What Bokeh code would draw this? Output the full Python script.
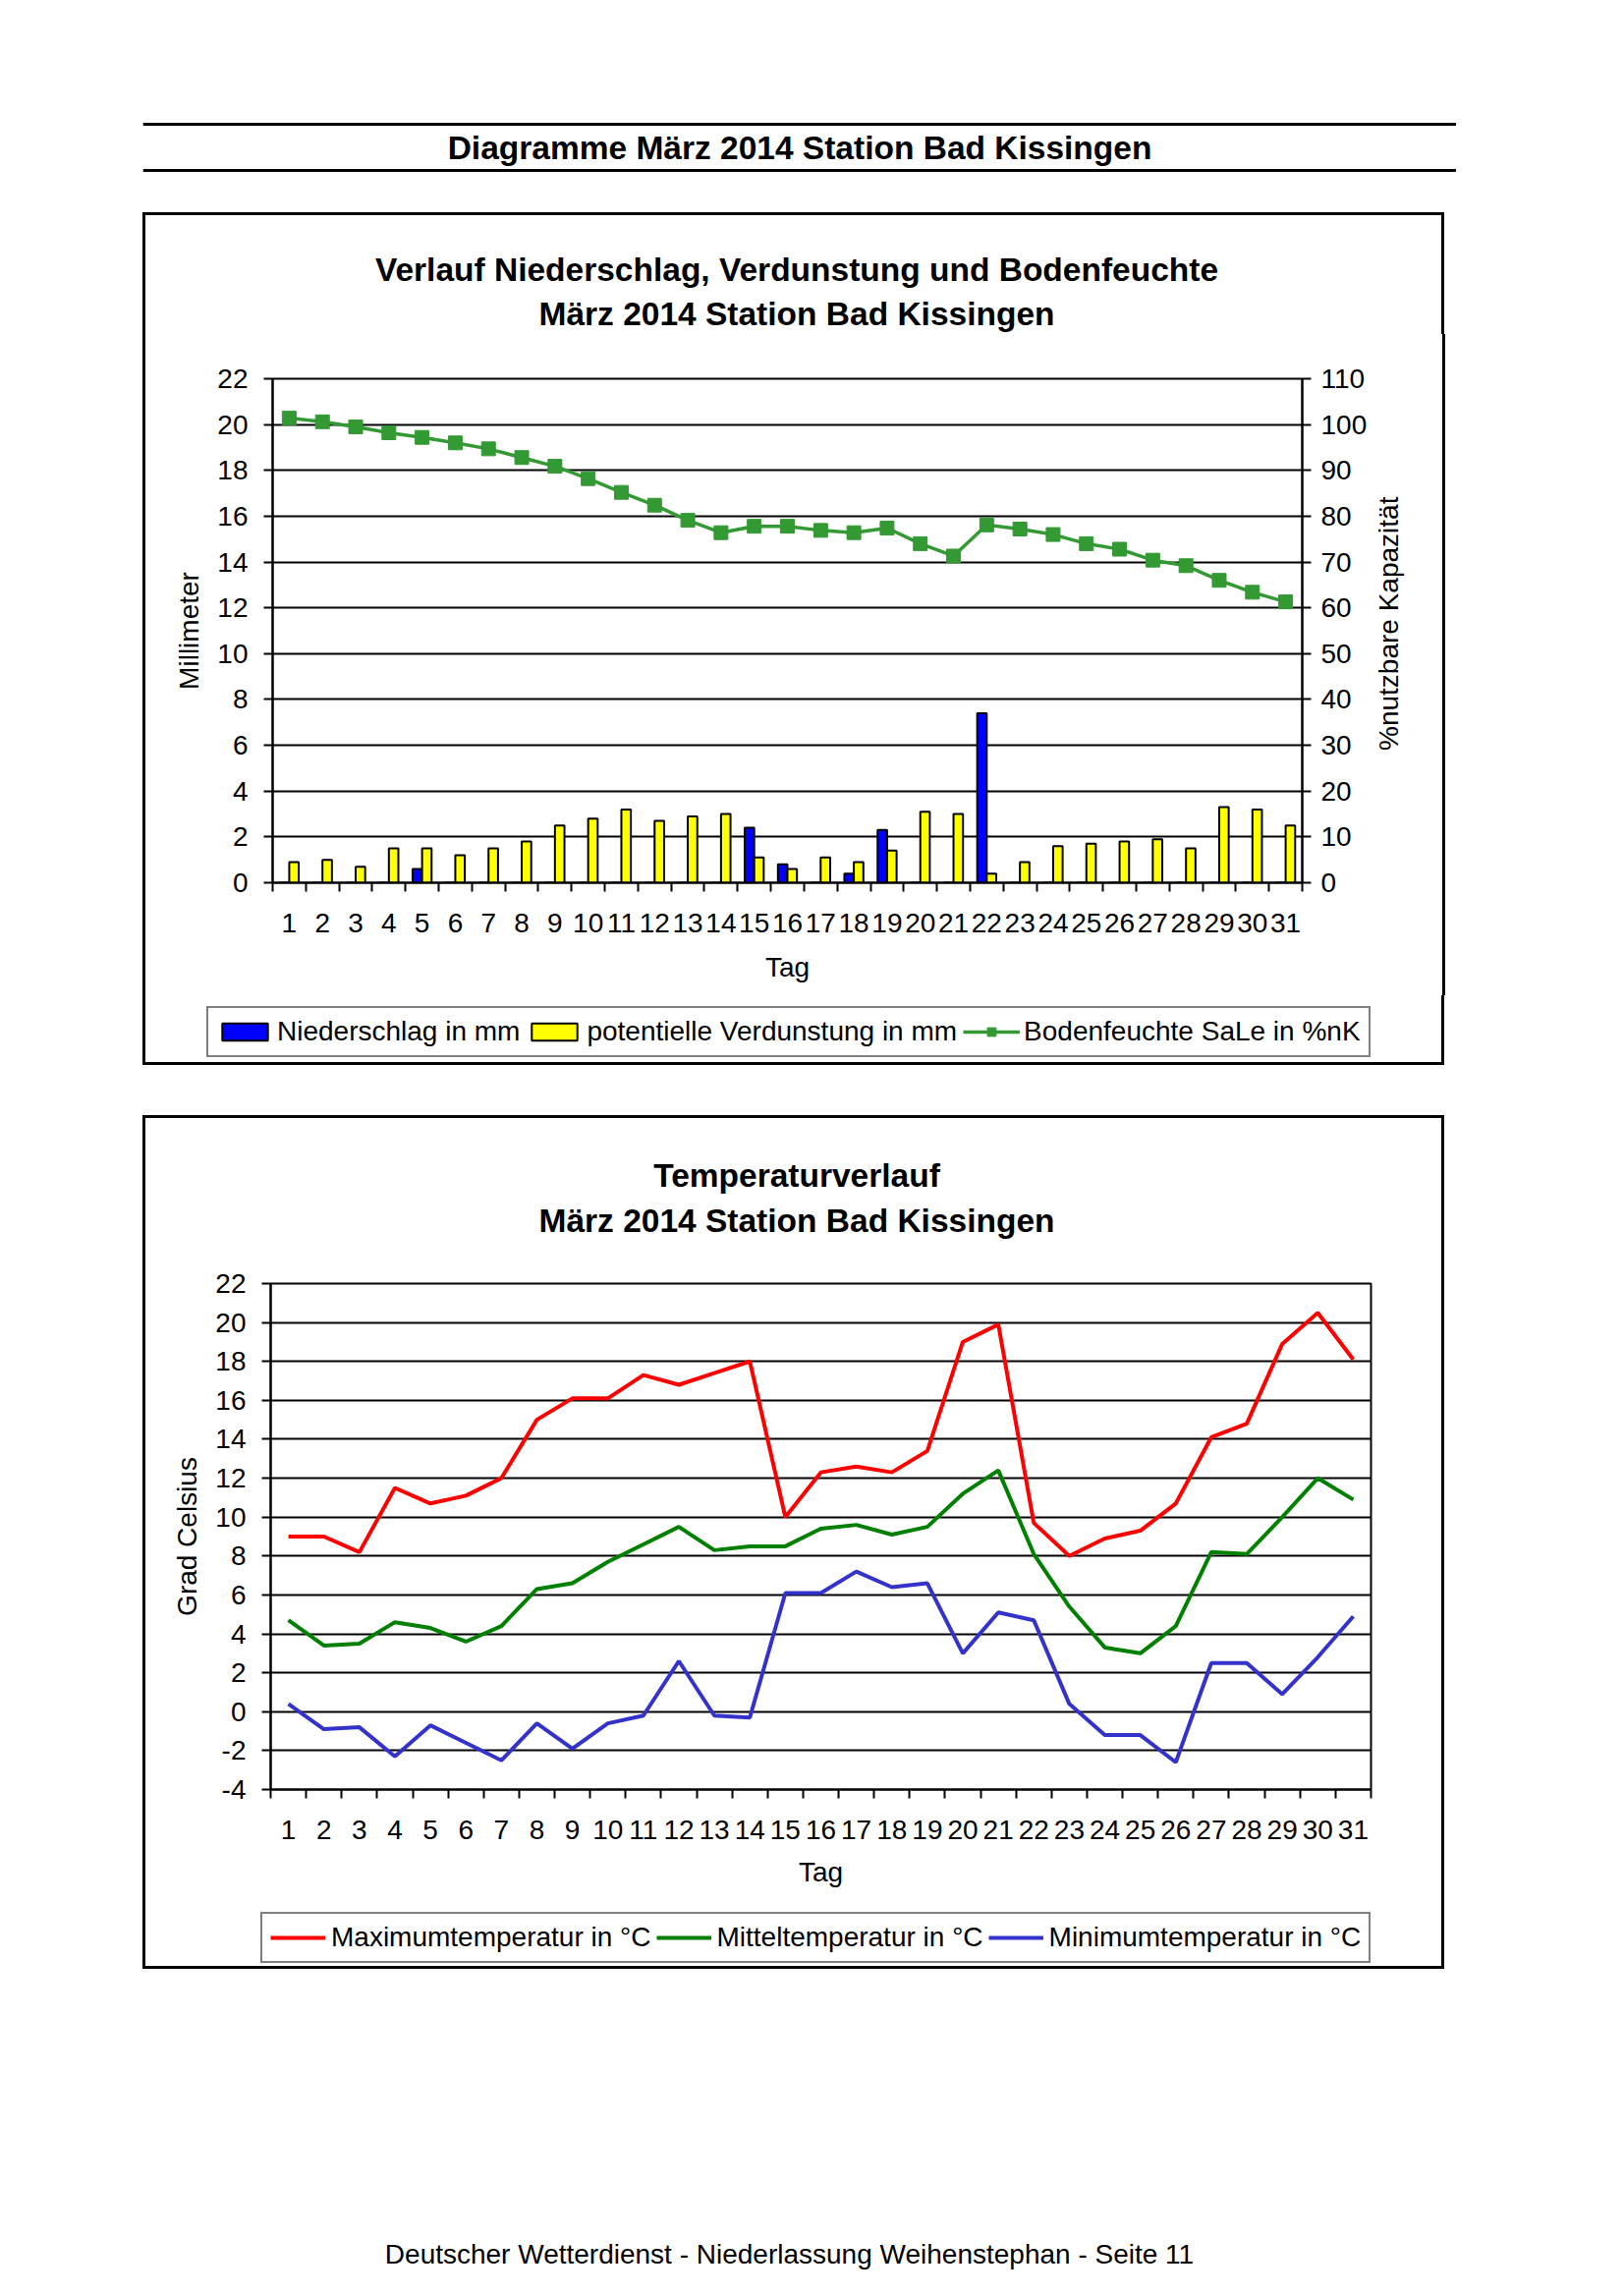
import math
from bokeh.plotting import figure
from bokeh.models import (Range1d, LinearAxis, FixedTicker, Legend, LegendItem,
                          Label, Span, Spacer, ColumnDataSource, PrintfTickFormatter)
from bokeh.layouts import column, row
from bokeh.transform import dodge
from bokeh.embed import file_html
from bokeh.resources import INLINE

FONT = "Liberation Sans"
TXT = "28px"
BOLD = "33.5px"
BORDER = "3px solid black"

# ---------------- data ----------------
days = list(range(1, 32))
niederschlag = [0, 0, 0, 0, 0.6, 0, 0, 0, 0, 0, 0, 0, 0, 0, 2.4, 0.8, 0, 0.4, 2.3, 0,
                0, 7.4, 0, 0, 0, 0, 0, 0, 0, 0, 0]
verdunstung = [0.9, 1.0, 0.7, 1.5, 1.5, 1.2, 1.5, 1.8, 2.5, 2.8, 3.2, 2.7, 2.9, 3.0, 1.1, 0.6,
               1.1, 0.9, 1.4, 3.1, 3.0, 0.4, 0.9, 1.6, 1.7, 1.8, 1.9, 1.5, 3.3, 3.2, 2.5]
bodenfeuchte = [101.4, 100.6, 99.5, 98.2, 97.2, 96.0, 94.7, 92.8, 90.9, 88.2, 85.2, 82.4, 79.1,
                76.4, 77.8, 77.8, 76.9, 76.4, 77.4, 74.0, 71.3, 78.1, 77.2, 76.0, 74.0, 72.8,
                70.4, 69.2, 66.0, 63.4, 61.3]
temp_max = [9.0, 9.0, 8.2, 11.5, 10.7, 11.1, 12.0, 15.0, 16.1, 16.1, 17.3, 16.8, 17.4, 18.0,
            10.0, 12.3, 12.6, 12.3, 13.4, 19.0, 19.9, 9.7, 8.0, 8.9, 9.3, 10.7, 14.1, 14.8,
            18.9, 20.5, 18.1]
temp_mittel = [4.7, 3.4, 3.5, 4.6, 4.3, 3.6, 4.4, 6.3, 6.6, 7.7, 8.6, 9.5, 8.3, 8.5, 8.5, 9.4,
               9.6, 9.1, 9.5, 11.2, 12.4, 8.1, 5.4, 3.3, 3.0, 4.4, 8.2, 8.1, 10.0, 12.0, 10.9]
temp_min = [0.4, -0.9, -0.8, -2.3, -0.7, -1.6, -2.5, -0.6, -1.9, -0.6, -0.2, 2.6, -0.2, -0.3,
            6.1, 6.1, 7.2, 6.4, 6.6, 3.0, 5.1, 4.7, 0.4, -1.2, -1.2, -2.6, 2.5, 2.5, 0.9, 2.8,
            4.9]

mm_ticks = list(range(0, 23, 2))
pct_ticks = list(range(0, 111, 10))
temp_ticks = list(range(-4, 23, 2))

page_title = "Diagramme März 2014 Station Bad Kissingen"
chart1_title = ["Verlauf Niederschlag, Verdunstung und Bodenfeuchte", "März 2014 Station Bad Kissingen"]
chart2_title = ["Temperaturverlauf", "März 2014 Station Bad Kissingen"]
right_label = "%nutzbare Kapazität"
legend1_labels = ["Niederschlag in mm", "potentielle Verdunstung in mm", "Bodenfeuchte SaLe in %nK"]
legend2_labels = ["Maximumtemperatur in °C", "Mitteltemperatur in °C", "Minimumtemperatur in °C"]
footer_text = "Deutscher Wetterdienst - Niederlassung Weihenstephan - Seite 11"

COL_N, COL_V, COL_B = "#0000FF", "#FFFF00", "#339933"
COL_MAX, COL_MIT, COL_MIN = "#FF0000", "#008000", "#3333CC"


def style_axis(ax, label_standoff, axis_standoff, is_x=False):
    ax.axis_line_color = "black"
    ax.axis_line_width = 2
    ax.major_tick_line_color = "black"
    ax.major_tick_line_width = 2
    ax.minor_tick_line_color = "black"
    ax.minor_tick_line_width = 2
    ax.major_tick_in = 0
    ax.minor_tick_in = 0
    if is_x:
        ax.major_tick_out = 0
        ax.minor_tick_out = 9
    else:
        ax.major_tick_out = 9
        ax.minor_tick_out = 0
    ax.formatter = PrintfTickFormatter(format="%d")
    ax.major_label_text_font = FONT
    ax.major_label_text_font_size = TXT
    ax.major_label_text_color = "black"
    ax.axis_label_text_font = FONT
    ax.axis_label_text_font_size = TXT
    ax.axis_label_text_font_style = "normal"
    ax.axis_label_text_color = "black"
    ax.major_label_standoff = label_standoff
    ax.axis_label_standoff = axis_standoff


def blank_fig(w, h, cw=None, ch=None, styles=None):
    cw = w if cw is None else cw
    ch = h if ch is None else ch
    f = figure(width=w, height=h, x_range=Range1d(0, cw), y_range=Range1d(ch, 0),
               toolbar_location=None, output_backend="svg", x_axis_location=None,
               y_axis_location=None, min_border=0, outline_line_color=None,
               styles=styles or {})
    f.grid.visible = False
    return f


def text_label(f, x, y, txt, size, bold=False, angle=0.0):
    f.add_layout(Label(x=x, y=y, text=txt, angle=angle, text_align="center",
                       text_baseline="middle", text_font=FONT, text_font_size=size,
                       text_font_style="bold" if bold else "normal", text_color="black"))


def legend_fig(h, items, loc, spacing, standoff, gw, gh):
    f = blank_fig(1325, h, 1319, h - 3,
                  {"border-left": BORDER, "border-right": BORDER, "border-bottom": BORDER})
    leg = Legend(items=items(f), orientation="horizontal", location=loc,
                 border_line_color="black", border_line_width=2, background_fill_alpha=1,
                 padding=8, spacing=spacing, label_standoff=standoff, glyph_width=gw,
                 glyph_height=gh, label_height=30, margin=0, label_text_font=FONT,
                 label_text_font_size=TXT, label_text_color="black")
    f.add_layout(leg)
    return f


# ---------------- header ----------------
HW, HH = 1337, 192
header = blank_fig(HW, HH)
for yy in (118, 165):
    header.add_layout(Span(location=yy, dimension="width", line_color="black", line_width=3))
text_label(header, HW / 2, 142, page_title, BOLD, bold=True)

# ---------------- chart 1 ----------------
title1 = blank_fig(1325, 124, 1319, 121,
                   {"border-left": BORDER, "border-top": BORDER, "border-right": BORDER})
text_label(title1, 659.5, 54, chart1_title[0], BOLD, bold=True)
text_label(title1, 659.5, 98, chart1_title[1], BOLD, bold=True)

src1 = ColumnDataSource(dict(day=days, nied=niederschlag, verd=verdunstung, bf=bodenfeuchte))
p1 = figure(frame_width=1045, frame_height=513, x_range=Range1d(0.5, 31.5), y_range=Range1d(0, 22),
            toolbar_location=None, output_backend="svg",
            min_border_left=129, min_border_right=68, min_border_top=45, min_border_bottom=115,
            outline_line_color="black", outline_line_width=2,
            styles={"border-left": BORDER})
p1.extra_y_ranges = {"pct": Range1d(0, 110)}
p1.xgrid.visible = False
p1.ygrid.ticker = FixedTicker(ticks=mm_ticks)
p1.ygrid.grid_line_color = "black"
p1.ygrid.grid_line_width = 2

p1.vbar(x=dodge("day", -0.143, range=p1.x_range), top="nied", width=0.286,
        fill_color=COL_N, line_color="black", line_width=2, source=src1)
p1.vbar(x=dodge("day", 0.143, range=p1.x_range), top="verd", width=0.286,
        fill_color=COL_V, line_color="black", line_width=2, source=src1)
p1.line("day", "bf", y_range_name="pct", line_color=COL_B, line_width=3.5, source=src1)
p1.scatter("day", "bf", y_range_name="pct", marker="square", size=14,
           fill_color=COL_B, line_color=COL_B, source=src1)

p1.xaxis.ticker = FixedTicker(ticks=days, minor_ticks=[d - 0.5 for d in range(1, 33)])
p1.xaxis.axis_label = "Tag"
style_axis(p1.xaxis[0], 22, 17, is_x=True)
p1.yaxis.ticker = FixedTicker(ticks=mm_ticks)
p1.yaxis.axis_label = "Millimeter"
style_axis(p1.yaxis[0], 16, 10)
ax_r = LinearAxis(y_range_name="pct", ticker=FixedTicker(ticks=pct_ticks))
style_axis(ax_r, 10, 10)
p1.add_layout(ax_r, "right")

lab1 = blank_fig(80, 673, 77, 673, {"border-right": BORDER})
text_label(lab1, 21, 327, right_label, TXT, angle=math.pi / 2)


def items1(f):
    e = ColumnDataSource(dict(x=[0], y=[0]))
    rn = f.vbar(x="x", top="y", width=1, fill_color=COL_N, line_color="black", line_width=2,
                source=e, visible=False)
    rv = f.vbar(x="x", top="y", width=1, fill_color=COL_V, line_color="black", line_width=2,
                source=e, visible=False)
    rl = f.line(x="x", y="y", line_color=COL_B, line_width=3.5, source=e, visible=False)
    rs = f.scatter(x="x", y="y", marker="square", size=14, fill_color=COL_B, line_color=COL_B,
                   source=e, visible=False)
    return [LegendItem(label=legend1_labels[0], renderers=[rn]),
            LegendItem(label=legend1_labels[1], renderers=[rv]),
            LegendItem(label=legend1_labels[2], renderers=[rl, rs])]


leg1f = legend_fig(71, items1, (62, 8), 6, 4, 58, 22)

# ---------------- chart 2 ----------------
title2 = blank_fig(1325, 127, 1319, 124,
                   {"border-left": BORDER, "border-top": BORDER, "border-right": BORDER})
text_label(title2, 659.5, 57, chart2_title[0], BOLD, bold=True)
text_label(title2, 659.5, 102, chart2_title[1], BOLD, bold=True)

src2 = ColumnDataSource(dict(day=days, tmax=temp_max, tmit=temp_mittel, tmin=temp_min))
p2 = figure(frame_width=1114, frame_height=515, x_range=Range1d(0.5, 31.5), y_range=Range1d(-4, 22),
            toolbar_location=None, output_backend="svg",
            min_border_left=127, min_border_right=78, min_border_top=44, min_border_bottom=112,
            outline_line_color="black", outline_line_width=2,
            styles={"border-left": BORDER, "border-right": BORDER})
p2.xgrid.visible = False
p2.ygrid.ticker = FixedTicker(ticks=temp_ticks)
p2.ygrid.grid_line_color = "black"
p2.ygrid.grid_line_width = 2

p2.line("day", "tmax", line_color=COL_MAX, line_width=4, source=src2)
p2.line("day", "tmit", line_color=COL_MIT, line_width=4, source=src2)
p2.line("day", "tmin", line_color=COL_MIN, line_width=4, source=src2)

p2.xaxis.ticker = FixedTicker(ticks=days, minor_ticks=[d - 0.5 for d in range(1, 33)])
p2.xaxis.axis_label = "Tag"
style_axis(p2.xaxis[0], 22, 15, is_x=True)
p2.yaxis.ticker = FixedTicker(ticks=temp_ticks)
p2.yaxis.axis_label = "Grad Celsius"
style_axis(p2.yaxis[0], 16, 10)


def items2(f):
    e = ColumnDataSource(dict(x=[0], y=[0]))
    out = []
    for lab, col in zip(legend2_labels, (COL_MAX, COL_MIT, COL_MIN)):
        r = f.line(x="x", y="y", line_color=col, line_width=4, source=e, visible=False)
        out.append(LegendItem(label=lab, renderers=[r]))
    return out


leg2f = legend_fig(71, items2, (117, 6), 5, 6, 56, 18)

# ---------------- footer ----------------
footer = blank_fig(1637, 320)
text_label(footer, 795, 290, footer_text, TXT)

L = 145
page = column(Spacer(height=8),
              row(Spacer(width=L), header),
              Spacer(height=16),
              row(Spacer(width=L), title1),
              row(Spacer(width=L), p1, lab1),
              row(Spacer(width=L), leg1f),
              Spacer(height=51),
              row(Spacer(width=L), title2),
              row(Spacer(width=L), p2),
              row(Spacer(width=L), leg2f),
              row(Spacer(width=8), footer))

open("out.html", "w").write(file_html(page, INLINE))
